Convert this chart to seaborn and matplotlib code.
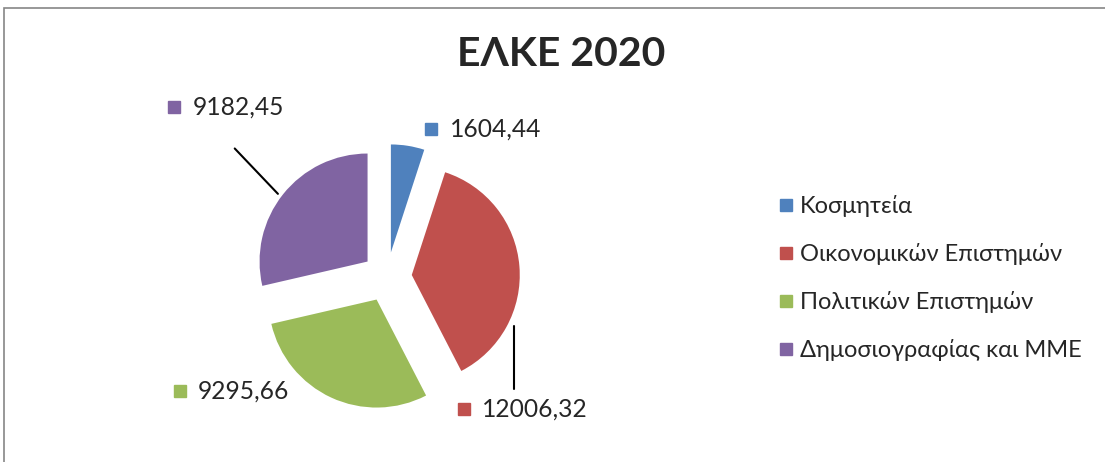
import matplotlib
matplotlib.use("Agg")
import matplotlib.pyplot as plt
import seaborn as sns
from matplotlib.lines import Line2D
from matplotlib.patches import Rectangle

# Data
categories = ["Κοσμητεία", "Οικονομικών Επιστημών", "Πολιτικών Επιστημών", "Δημοσιογραφίας και ΜΜΕ"]
values = [1604.44, 12006.32, 9295.66, 9182.45]
title = "ΕΛΚΕ 2020"

# Layout (data coords, radius = 1)
label_pos = [(0.41, 1.37), (0.71, -1.22), (-1.92, -1.06), (-1.97, 1.57)]
leaders = {1: [(1.18, 1.18), (-0.45, -1.04)], 3: [(-1.41, -1.01), (1.19, 0.77)]}

sns.set_style("white")
plt.rcParams['font.family'] = ['Lato', 'Noto Sans', 'DejaVu Sans']
colors = sns.color_palette(["#4F81BD", "#C0504D", "#9BBB59", "#8064A2"])

W, H = 1105, 462
fig = plt.figure(figsize=(W / 100, H / 100), dpi=100)

# pie centre (px) and radius (px)
cx, cy, R = 387, 277, 108
L = 1.7
size = 2 * L * R
ax = fig.add_axes([(cx - size / 2) / W, ((H - cy) - size / 2) / H, size / W, size / H])
wedges, _ = ax.pie(values, colors=colors, startangle=90, counterclock=False,
                   explode=[0.23] * len(values), radius=1,
                   wedgeprops=dict(linewidth=0))
ax.set_xlim(-L, L)
ax.set_ylim(-L, L)
ax.set_aspect("equal")
ax.axis("off")

# data labels with colour keys
for i, v in enumerate(values):
    x, y = label_pos[i]
    ax.plot([x], [y], marker="s", markersize=8.5, color=colors[i], clip_on=False, linestyle="none")
    ax.text(x + 0.17, y, f"{v:.2f}".replace(".", ","), fontsize=17.7, va="center", ha="left")

for i, (xs, ys) in leaders.items():
    ax.plot(xs, ys, color="black", linewidth=1.5, clip_on=False)

fig.text(561 / W, 1 - 55 / H, title, fontsize=29.5, fontweight="bold", ha="center", va="center")

handles = [Line2D([0], [0], marker="s", linestyle="none", markersize=9, color=c) for c in colors]
fig.legend(handles, categories, loc="center left", bbox_to_anchor=(772 / W, 1 - 278 / H),
           frameon=False, fontsize=17, handletextpad=0.05, labelspacing=1.1,
           handlelength=1.15, borderaxespad=0, borderpad=0)

# chart border
fig.add_artist(Rectangle((4 / W, -0.1), 1.2, 1.1 - 8 / H, transform=fig.transFigure,
                         fill=False, edgecolor="#868686", linewidth=1.2))

fig.savefig("out.png", dpi=100)
